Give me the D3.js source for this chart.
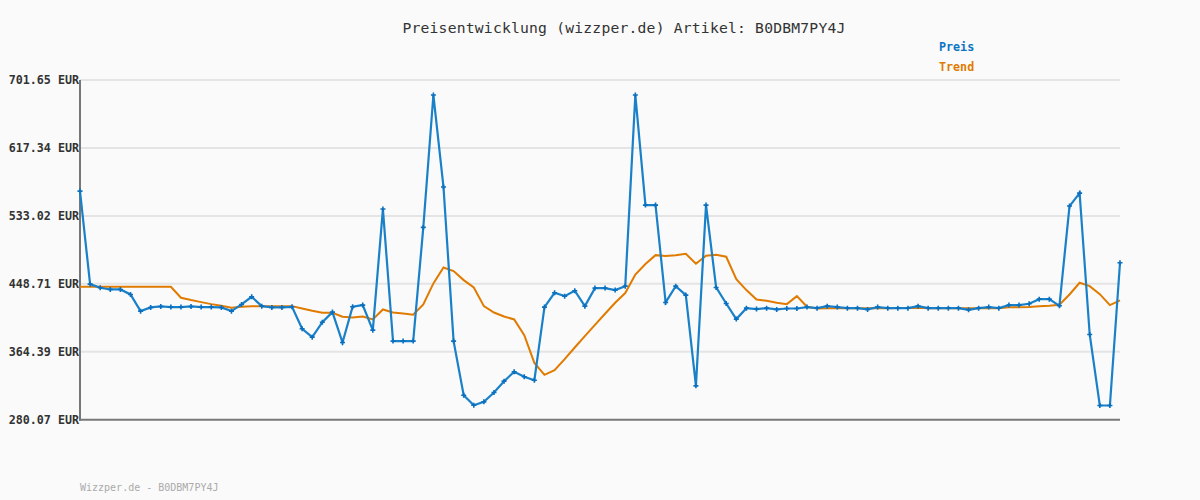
<!DOCTYPE html>
<html><head><meta charset="utf-8">
<script src="https://cdn.jsdelivr.net/npm/d3@7"></script>
<style>html,body{margin:0;padding:0;background:#fafafa;}svg{display:block;}</style>
</head><body>
<svg id="c" width="1200" height="500"></svg>
<script>
const titleText = "Preisentwicklung (wizzper.de) Artikel: B0DBM7PY4J";
const footerText = "Wizzper.de - B0DBM7PY4J";
const seriesNames = ["Preis", "Trend"];
const yTicks = [280.07, 364.39, 448.71, 533.02, 617.34, 701.65];
const price = [563.8,448.3,443.8,441.7,441.7,435.5,414.8,419.4,420.6,419.8,
419.8,420.6,419.8,419.8,419.4,414.8,423.1,432.6,421.0,419.4,
419.4,420.2,392.9,382.5,401.1,413.6,375.9,420.2,422.3,391.2,
541.5,377.6,377.6,377.6,518.7,683.0,568.8,377.6,310.5,298.1,
302.2,313.8,327.9,339.5,333.3,329.1,419.8,437.6,433.4,440.1,
421.0,443.4,443.4,440.9,445.8,683.0,546.4,546.4,425.6,445.8,
434.7,322.1,546.4,444.2,424.3,404.9,418.5,417.3,418.5,416.9,
418.1,418.1,419.8,418.5,421.0,419.8,418.5,418.5,416.9,419.8,
418.5,418.5,418.5,421.0,418.5,418.5,418.5,418.5,416.5,418.5,
419.8,418.5,422.3,422.3,423.9,429.7,429.7,421.4,545.2,561.3,
385.8,297.7,297.7,474.8];
const trend = [445.0,445.0,445.0,445.0,445.0,445.0,445.0,445.0,445.0,445.0,
431.4,428.5,426.0,423.5,421.4,418.9,420.2,421.0,421.0,421.0,
421.0,421.0,418.1,415.2,412.7,412.7,407.8,406.9,408.2,404.5,
416.9,413.1,411.9,410.3,423.1,449.2,469.0,464.5,453.3,444.2,
421.0,413.1,408.2,404.5,385.0,350.6,335.7,341.5,355.2,369.7,
383.8,397.8,411.5,425.2,437.2,460.3,473.2,484.3,483.1,484.3,
486.0,473.6,483.5,484.7,482.3,454.5,440.9,429.3,427.6,425.2,
423.5,433.4,420.2,418.1,418.3,418.5,418.5,418.5,418.5,418.5,
418.5,418.6,418.8,419.0,418.5,418.5,418.5,418.5,418.5,418.5,
418.5,418.5,419.5,419.5,420.0,420.8,421.6,422.7,435.5,450.0,
445.8,435.9,422.3,428.1];

const svg = d3.select("#c");
const L = 80, R = 1120, T = 80, B = 419.7;
const x = d3.scaleLinear().domain([0, price.length - 1]).range([L, R]);
const y = d3.scaleLinear().domain([280.07, 701.65]).range([B, T]);
const mono = "'DejaVu Sans Mono', monospace";

// gridlines
svg.append("g").selectAll("line").data(yTicks.slice(1)).join("line")
  .attr("x1", L).attr("x2", R).attr("y1", d => y(d)).attr("y2", d => y(d))
  .attr("stroke", "#e4e4e4").attr("stroke-width", 2);

// y labels
svg.append("g").selectAll("text").data(yTicks).join("text")
  .attr("x", 79).attr("y", d => y(d) + 4).attr("text-anchor", "end")
  .attr("font-family", mono).attr("font-size", 11.7).attr("font-weight", "bold")
  .attr("fill", "#333").text(d => d.toFixed(2) + " EUR");

// axes
svg.append("line").attr("x1", L).attr("x2", L).attr("y1", T).attr("y2", B + 1)
  .attr("stroke", "#777").attr("stroke-width", 2);
svg.append("line").attr("x1", L - 1).attr("x2", R).attr("y1", B).attr("y2", B)
  .attr("stroke", "#777").attr("stroke-width", 2);

const line = d3.line().x((d, i) => x(i)).y(d => y(d));
svg.append("path").datum(trend).attr("d", line).attr("fill", "none")
  .attr("stroke", "#e07b00").attr("stroke-width", 2);
svg.append("path").datum(price).attr("d", line).attr("fill", "none")
  .attr("stroke", "#1a80c8").attr("stroke-width", 2.2);
svg.append("g").selectAll("path").data(price).join("path")
  .attr("d", (d, i) => { const cx = x(i), cy = y(d);
    return `M${cx-2.5},${cy}L${cx+2.5},${cy}M${cx},${cy-2.5}L${cx},${cy+2.5}`; })
  .attr("stroke", "#0a6fbf").attr("stroke-width", 1.6);

// title
svg.append("text").attr("x", 624).attr("y", 33).attr("text-anchor", "middle")
  .attr("font-family", mono).attr("font-size", 14.7).attr("letter-spacing", 0.2)
  .attr("fill", "#333").text(titleText);
// legend
const legColors = ["#0a74c4", "#e07b00"];
svg.append("g").selectAll("text").data(seriesNames).join("text")
  .attr("x", 939).attr("y", (d, i) => 51 + i * 20)
  .attr("font-family", mono).attr("font-size", 11.7).attr("font-weight", "bold")
  .attr("fill", (d, i) => legColors[i]).text(d => d);
// footer
svg.append("text").attr("x", 80).attr("y", 491)
  .attr("font-family", mono).attr("font-size", 10).attr("fill", "#aaa").text(footerText);
</script>
</body></html>
